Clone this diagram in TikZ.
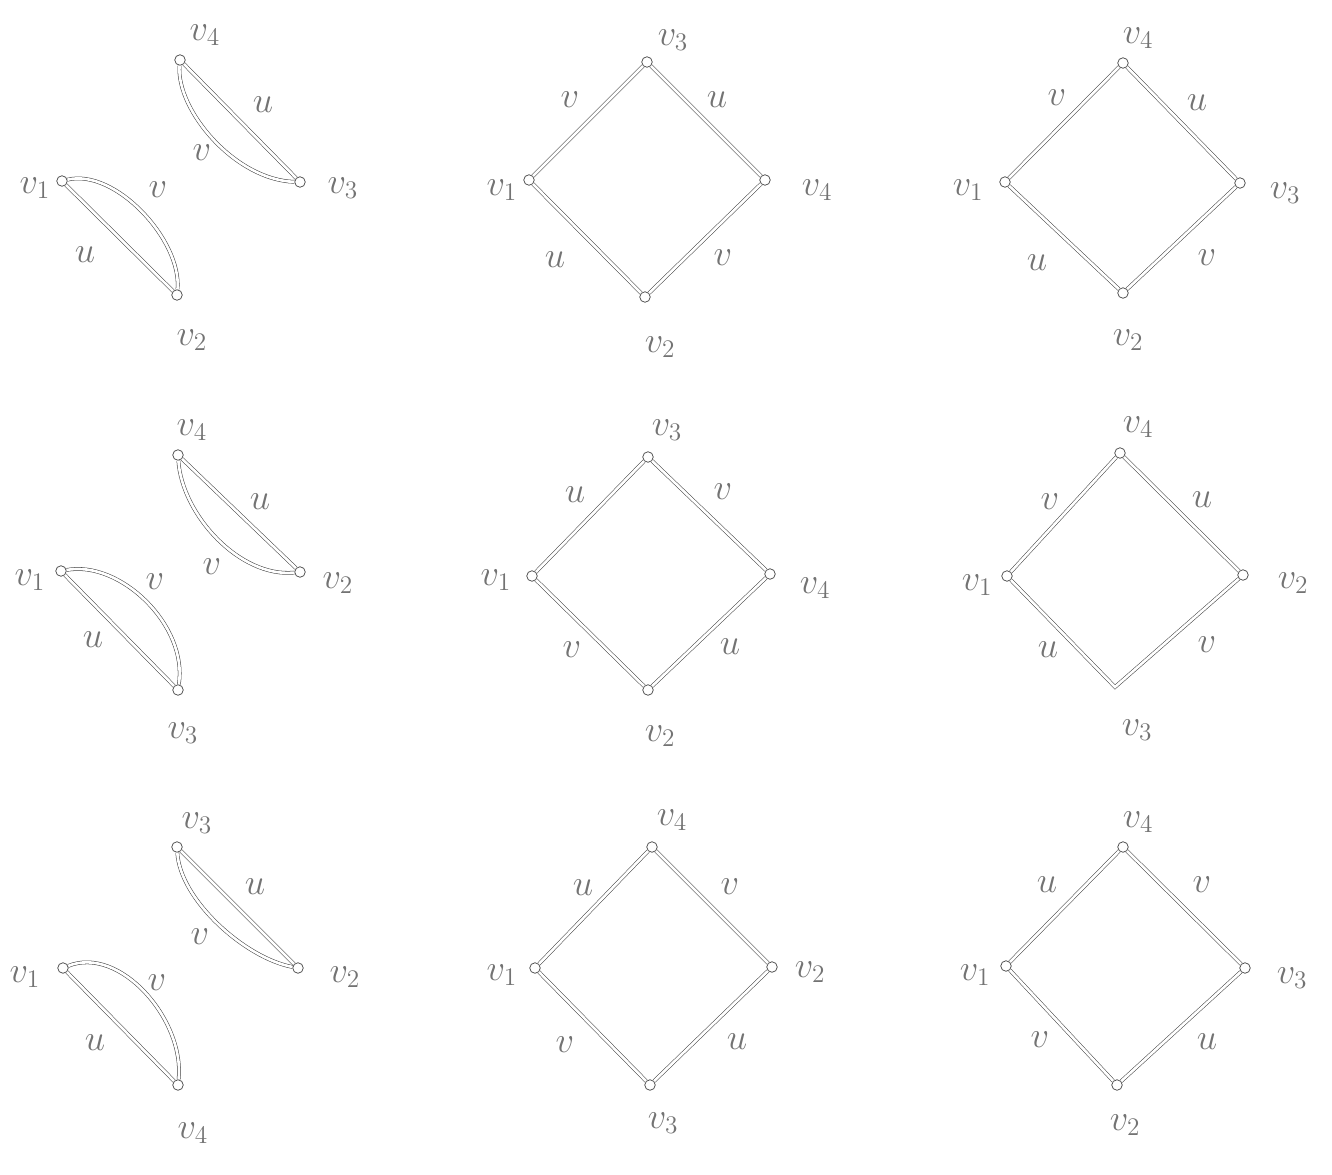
\documentclass[tikz,border=0pt]{standalone}
\usepackage{amsmath}
\usepackage{tikz}

\begin{document}
\begin{tikzpicture}[x=0.02cm,y=-0.02cm,
  vertex/.style={circle,draw=black!75,fill=white,line width=.4pt,inner sep=0pt,minimum size=6pt},
  edg/.style={draw=black!75,line width=.3pt,double=white,double distance=1.5pt},
  lbl/.style={text=black!55,font=\fontsize{20}{24}\selectfont},
  elbl/.style={text=black!55,font=\fontsize{22}{26}\selectfont}]

\useasboundingbox (0,0) rectangle (1332,1174);

% Top left: two lenses
\node (a1) at (62,181) [vertex] {};
\node (a2) at (177,295) [vertex] {};
\node (a3) at (300,182) [vertex] {};
\node (a4) at (180,60) [vertex] {};
\draw[edg] (a4) -- (a3);
\draw[edg] (a4) .. controls (176,110) and (235,180) .. (a3);
\draw[edg] (a1) .. controls (115,168) and (182,240) .. (a2);
\draw[edg] (a1) -- (a2);
\node (la1) at (35,188) [lbl] {$v_1$};
\node (la2) at (192,340) [lbl] {$v_2$};
\node (la3) at (343,188) [lbl] {$v_3$};
\node (la4) at (205,35) [lbl] {$v_4$};
\node (ea43) at (263,105) [elbl] {$u$};
\node (ea43b) at (202,153) [elbl] {$v$};
\node (ea12) at (158,190) [elbl] {$v$};
\node (ea12b) at (85,255) [elbl] {$u$};

% Top middle
\node (b1) at (529,180) [vertex] {};
\node (b2) at (645,297) [vertex] {};
\node (b3) at (647,62) [vertex] {};
\node (b4) at (765,180) [vertex] {};
\draw[edg] (b1) -- (b3) -- (b4) -- (b2) -- (b1);
\node (lb1) at (502,190) [lbl] {$v_1$};
\node (lb2) at (660,347) [lbl] {$v_2$};
\node (lb3) at (673,40) [lbl] {$v_3$};
\node (lb4) at (817,190) [lbl] {$v_4$};
\node (eb13) at (570,100) [elbl] {$v$};
\node (eb34) at (717,100) [elbl] {$u$};
\node (eb12) at (555,260) [elbl] {$u$};
\node (eb24) at (723,258) [elbl] {$v$};

% Top right
\node (c1) at (1005,182) [vertex] {};
\node (c2) at (1123,293) [vertex] {};
\node (c3) at (1240,183) [vertex] {};
\node (c4) at (1123,63) [vertex] {};
\draw[edg] (c1) -- (c4) -- (c3) -- (c2) -- (c1);
\node (lc1) at (968,190) [lbl] {$v_1$};
\node (lc2) at (1128,340) [lbl] {$v_2$};
\node (lc3) at (1285,193) [lbl] {$v_3$};
\node (lc4) at (1138,38) [lbl] {$v_4$};
\node (ec14) at (1057,98) [elbl] {$v$};
\node (ec43) at (1197,103) [elbl] {$u$};
\node (ec12) at (1037,263) [elbl] {$u$};
\node (ec23) at (1207,258) [elbl] {$v$};

% Middle left: two lenses
\node (d1) at (61,571) [vertex] {};
\node (d2) at (300,572) [vertex] {};
\node (d3) at (178,690) [vertex] {};
\node (d4) at (178,455) [vertex] {};
\draw[edg] (d4) -- (d2);
\draw[edg] (d4) .. controls (182,515) and (240,578) .. (d2);
\draw[edg] (d1) .. controls (120,560) and (188,625) .. (d3);
\draw[edg] (d1) -- (d3);
\node (ld1) at (30,580) [lbl] {$v_1$};
\node (ld2) at (338,583) [lbl] {$v_2$};
\node (ld3) at (183,733) [lbl] {$v_3$};
\node (ld4) at (192,430) [lbl] {$v_4$};
\node (ed42) at (260,502) [elbl] {$u$};
\node (ed42b) at (212,567) [elbl] {$v$};
\node (ed13) at (155,582) [elbl] {$v$};
\node (ed13b) at (93,640) [elbl] {$u$};

% Centre
\node (e1) at (532,576) [vertex] {};
\node (e2) at (648,690) [vertex] {};
\node (e3) at (648,457) [vertex] {};
\node (e4) at (770,574) [vertex] {};
\draw[edg] (e1) -- (e3) -- (e4) -- (e2) -- (e1);
\node (le1) at (496,580) [lbl] {$v_1$};
\node (le2) at (660,736) [lbl] {$v_2$};
\node (le3) at (667,430) [lbl] {$v_3$};
\node (le4) at (815,588) [lbl] {$v_4$};
\node (ee13) at (575,495) [elbl] {$u$};
\node (ee34) at (723,492) [elbl] {$v$};
\node (ee12) at (572,650) [elbl] {$v$};
\node (ee24) at (730,647) [elbl] {$u$};

% Middle right
\node (f1) at (1007,576) [vertex] {};
\node (f2) at (1243,575) [vertex] {};
\coordinate (f3) at (1115,687);
\node (f4) at (1120,453) [vertex] {};
\draw[edg] (f1) -- (f4) -- (f2) -- (f3) -- (f1);
\node (lf1) at (977,585) [lbl] {$v_1$};
\node (lf2) at (1293,583) [lbl] {$v_2$};
\node (lf3) at (1137,730) [lbl] {$v_3$};
\node (lf4) at (1138,427) [lbl] {$v_4$};
\node (ef14) at (1050,502) [elbl] {$v$};
\node (ef42) at (1202,500) [elbl] {$u$};
\node (ef13) at (1048,650) [elbl] {$u$};
\node (ef32) at (1207,645) [elbl] {$v$};

% Bottom left: two lenses
\node (g1) at (63,968) [vertex] {};
\node (g2) at (298,968) [vertex] {};
\node (g3) at (177,847) [vertex] {};
\node (g4) at (178,1085) [vertex] {};
\draw[edg] (g3) -- (g2);
\draw[edg] (g3) .. controls (180,900) and (245,958) .. (g2);
\draw[edg] (g1) .. controls (120,945) and (185,1020) .. (g4);
\draw[edg] (g1) -- (g4);
\node (lg1) at (25,977) [lbl] {$v_1$};
\node (lg2) at (345,977) [lbl] {$v_2$};
\node (lg3) at (197,823) [lbl] {$v_3$};
\node (lg4) at (193,1133) [lbl] {$v_4$};
\node (eg32) at (255,887) [elbl] {$u$};
\node (eg32b) at (200,937) [elbl] {$v$};
\node (eg14) at (157,983) [elbl] {$v$};
\node (eg14b) at (95,1043) [elbl] {$u$};

% Bottom middle
\node (h1) at (535,968) [vertex] {};
\node (h2) at (772,967) [vertex] {};
\node (h3) at (650,1085) [vertex] {};
\node (h4) at (652,847) [vertex] {};
\draw[edg] (h1) -- (h4) -- (h2) -- (h3) -- (h1);
\node (lh1) at (502,975) [lbl] {$v_1$};
\node (lh2) at (810,972) [lbl] {$v_2$};
\node (lh3) at (663,1123) [lbl] {$v_3$};
\node (lh4) at (672,820) [lbl] {$v_4$};
\node (eh14) at (583,888) [elbl] {$u$};
\node (eh42) at (730,887) [elbl] {$v$};
\node (eh13) at (565,1045) [elbl] {$v$};
\node (eh32) at (737,1042) [elbl] {$u$};

% Bottom right
\node (i1) at (1006,966) [vertex] {};
\node (i2) at (1117,1085) [vertex] {};
\node (i3) at (1245,968) [vertex] {};
\node (i4) at (1123,847) [vertex] {};
\draw[edg] (i1) -- (i4) -- (i3) -- (i2) -- (i1);
\node (li1) at (975,975) [lbl] {$v_1$};
\node (li2) at (1125,1125) [lbl] {$v_2$};
\node (li3) at (1292,978) [lbl] {$v_3$};
\node (li4) at (1138,822) [lbl] {$v_4$};
\node (ei14) at (1047,885) [elbl] {$u$};
\node (ei43) at (1202,885) [elbl] {$v$};
\node (ei12) at (1040,1040) [elbl] {$v$};
\node (ei23) at (1207,1042) [elbl] {$u$};

\end{tikzpicture}
\end{document}
